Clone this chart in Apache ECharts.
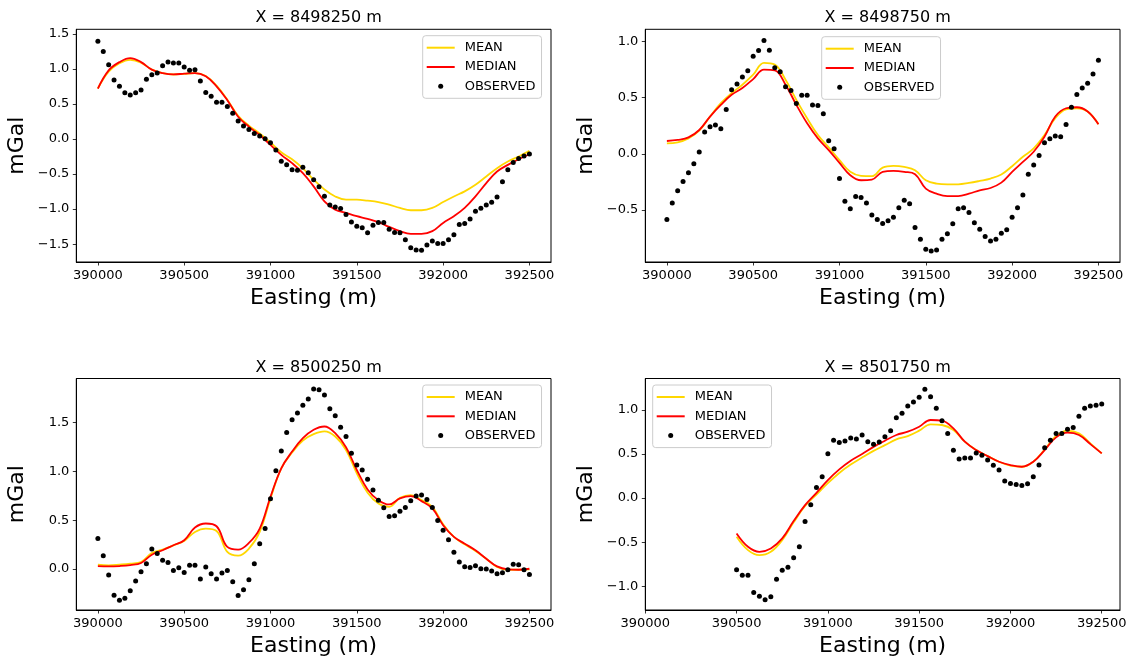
<!DOCTYPE html>
<html>
<head>
<meta charset="utf-8">
<script src="https://cdn.jsdelivr.net/npm/echarts@6/dist/echarts.min.js"></script>
<style>
html,body{margin:0;padding:0;background:#fff;}
#chart{width:1132px;height:664px;}
</style>
</head>
<body>
<div id="chart"></div>
<script>
// ---------- DATA ----------
const PANEL_TITLES = ['X = 8498250 m', 'X = 8498750 m', 'X = 8500250 m', 'X = 8501750 m'];
const X_TICKS = [390000, 390500, 391000, 391500, 392000, 392500];
const Y_TICKS_1 = [-1.5, -1.0, -0.5, 0.0, 0.5, 1.0, 1.5];
const Y_TICKS_2 = [-0.5, 0.0, 0.5, 1.0];
const Y_TICKS_3 = [0.0, 0.5, 1.0, 1.5];
const Y_TICKS_4 = [-1.0, -0.5, 0.0, 0.5, 1.0];
const LEGEND_NAMES = ['MEAN', 'MEDIAN', 'OBSERVED'];

// station spacing (m) of observed points and of modelled curves
const OBS_STEP = 31.25;
const FIT_STEP = 62.5;
const OBS_START = [390000, 390000, 390000, 390500];
const FIT_START = [390000, 390000, 390000, 390500];

const obs1 = [1.395,1.249,1.06,0.842,0.752,0.658,0.629,0.658,0.70,0.851,
  0.918,0.941,1.045,1.097,1.083,1.083,1.026,0.979,0.989,0.828,
  0.662,0.61,0.525,0.525,0.464,0.369,0.255,0.184,0.137,0.08,
  0.043,0.005,-0.052,-0.156,-0.317,-0.369,-0.44,-0.445,-0.402,-0.483,
  -0.582,-0.681,-0.818,-0.941,-0.97,-0.993,-1.079,-1.183,-1.244,-1.268,
  -1.339,-1.23,-1.192,-1.192,-1.287,-1.334,-1.339,-1.438,-1.552,-1.585,
  -1.589,-1.514,-1.457,-1.49,-1.49,-1.438,-1.367,-1.22,-1.206,-1.14,
  -1.031,-0.989,-0.941,-0.903,-0.828,-0.61,-0.44,-0.336,-0.279,-0.241,-0.213];
const median1 = [0.719,0.979,1.097,1.154,1.097,0.989,0.941,0.922,0.932,0.941,
  0.894,0.752,0.553,0.317,0.175,0.057,-0.085,-0.227,-0.345,-0.487,
  -0.676,-0.889,-1.008,-1.055,-1.102,-1.14,-1.187,-1.254,-1.315,-1.353,
  -1.353,-1.315,-1.197,-1.102,-0.984,-0.818,-0.629,-0.464,-0.369,-0.289,-0.218];
const mean1 = [0.72,0.96,1.08,1.13,1.09,0.99,0.94,0.92,0.93,0.94,
  0.90,0.76,0.56,0.33,0.19,0.08,-0.05,-0.19,-0.29,-0.42,
  -0.58,-0.72,-0.82,-0.866,-0.866,-0.88,-0.90,-0.937,-0.984,-1.017,
  -1.017,-0.984,-0.90,-0.82,-0.747,-0.653,-0.535,-0.416,-0.322,-0.25,-0.17];

const obs2 = [-0.586,-0.439,-0.329,-0.248,-0.170,-0.09,0.015,0.194,0.242,0.257,
  0.224,0.395,0.571,0.622,0.684,0.741,0.87,0.92,1.01,0.924,
  0.768,0.732,0.598,0.565,0.448,0.523,0.523,0.436,0.43,0.356,
  0.117,0.045,-0.221,-0.424,-0.49,-0.38,-0.389,-0.439,-0.547,-0.586,
  -0.622,-0.598,-0.565,-0.481,-0.415,-0.445,-0.657,-0.762,-0.852,-0.867,
  -0.858,-0.762,-0.714,-0.625,-0.49,-0.481,-0.523,-0.616,-0.672,-0.738,
  -0.777,-0.762,-0.708,-0.678,-0.565,-0.481,-0.368,-0.182,-0.099,-0.015,
  0.099,0.134,0.158,0.152,0.26,0.415,0.529,0.586,0.628,0.711,0.834];
const median2 = [0.114,0.123,0.146,0.212,0.332,0.436,0.526,0.586,0.666,0.75,
  0.744,0.616,0.436,0.272,0.137,0.033,-0.081,-0.191,-0.236,-0.23,
  -0.161,-0.152,-0.161,-0.182,-0.311,-0.356,-0.377,-0.377,-0.356,-0.326,
  -0.305,-0.257,-0.161,-0.072,0.018,0.152,0.332,0.406,0.415,0.377,0.263];
const mean2 = [0.093,0.102,0.137,0.206,0.332,0.451,0.541,0.616,0.705,0.81,
  0.795,0.66,0.481,0.317,0.167,0.057,-0.057,-0.161,-0.197,-0.2,
  -0.123,-0.108,-0.117,-0.146,-0.236,-0.266,-0.272,-0.272,-0.26,-0.242,
  -0.221,-0.185,-0.111,-0.027,0.048,0.167,0.317,0.397,0.406,0.377,0.263];

const obs3 = [0.312,0.137,-0.062,-0.267,-0.318,-0.298,-0.223,-0.123,-0.027,0.055,
  0.205,0.158,0.089,0.068,-0.014,0.014,-0.034,0.038,0.038,-0.103,
  0.021,-0.048,-0.103,-0.041,-0.014,-0.130,-0.271,-0.212,-0.11,0.055,
  0.26,0.414,0.719,1.007,1.209,1.397,1.527,1.596,1.675,1.74,
  1.842,1.836,1.781,1.64,1.568,1.452,1.356,1.185,1.065,1.014,
  0.918,0.808,0.705,0.627,0.538,0.545,0.592,0.630,0.699,0.747,
  0.757,0.712,0.630,0.497,0.397,0.301,0.171,0.072,0.024,0.017,
  0.034,0.003,0.0,-0.021,-0.048,-0.038,-0.007,0.048,0.045,-0.007,-0.055];
const median3 = [0.031,0.027,0.031,0.041,0.062,0.147,0.192,0.243,0.295,0.425,
  0.466,0.438,0.226,0.199,0.267,0.414,0.74,1.031,1.202,1.339,
  1.425,1.459,1.39,1.247,1.014,0.815,0.705,0.661,0.723,0.747,
  0.695,0.62,0.449,0.329,0.26,0.192,0.106,0.027,-0.003,-0.007,0.003];
const mean3 = [0.045,0.038,0.045,0.055,0.072,0.164,0.199,0.243,0.288,0.38,
  0.414,0.39,0.175,0.137,0.209,0.38,0.723,1.031,1.192,1.315,
  1.38,1.408,1.356,1.219,0.979,0.781,0.671,0.637,0.729,0.757,
  0.705,0.637,0.459,0.329,0.253,0.185,0.106,0.021,-0.007,-0.007,-0.003];

const obs4 = [-0.813,-0.873,-0.873,-1.07,-1.112,-1.153,-1.119,-0.919,-0.817,-0.783,
  -0.677,-0.552,-0.265,-0.076,0.121,0.242,0.503,0.654,0.631,0.647,
  0.681,0.669,0.715,0.639,0.609,0.635,0.696,0.764,0.911,0.96,
  1.043,1.089,1.142,1.233,1.149,1.017,0.877,0.733,0.541,0.442,
  0.454,0.454,0.510,0.484,0.431,0.371,0.318,0.193,0.166,0.155,
  0.144,0.163,0.242,0.374,0.571,0.654,0.733,0.733,0.779,0.801,
  0.926,1.017,1.043,1.051,1.066];
const median4 = [-0.401,-0.552,-0.609,-0.571,-0.457,-0.26,-0.08,0.06,0.204,0.325,
  0.423,0.499,0.58,0.65,0.715,0.752,0.809,0.885,0.877,0.79,
  0.639,0.544,0.476,0.412,0.374,0.355,0.412,0.544,0.688,0.741,
  0.715,0.612,0.507];
const mean4 = [-0.439,-0.59,-0.647,-0.609,-0.476,-0.275,-0.09,0.04,0.17,0.285,
  0.38,0.46,0.535,0.6,0.665,0.703,0.764,0.836,0.828,0.771,
  0.639,0.544,0.476,0.412,0.367,0.355,0.412,0.552,0.703,0.764,
  0.733,0.62,0.507];

// ---------- LAYOUT / STYLE ----------
const FONT = 'DejaVu Sans';
const GRIDS = [
  {left: 76.3, top: 29.3, width: 474.7, height: 232.7},
  {left: 645.3, top: 29.3, width: 474.7, height: 232.7},
  {left: 76.3, top: 378.5, width: 474.7, height: 231.5},
  {left: 645.3, top: 378.5, width: 474.7, height: 231.5}
];
const X_RANGES = [[389875, 392625], [389875, 392625], [389875, 392625], [390000, 392600]];
const Y_RANGES = [[-1.755, 1.565], [-0.965, 1.11], [-0.419, 1.95], [-1.268, 1.355]];
const Y_TICKS = [Y_TICKS_1, Y_TICKS_2, Y_TICKS_3, Y_TICKS_4];
const LEGEND_POS = [[422.7, 35.7], [821.7, 36.7], [422.7, 385], [652.7, 385]];
const COLORS = {MEAN: '#FFD700', MEDIAN: '#FF0000', OBSERVED: '#000000'};

const OBS = [obs1, obs2, obs3, obs4];
const MEDIANS = [median1, median2, median3, median4];
const MEANS = [mean1, mean2, mean3, mean4];

function stations(start, step, n) {
  const out = [];
  for (let i = 0; i < n; i++) out.push(start + i * step);
  return out;
}
function pairs(xs, ys) { return ys.map((y, i) => [xs[i], y]); }
function fmtY(v) {
  const s = Math.abs(v).toFixed(1);
  return v < 0 ? '\u2212' + s : s;
}

const option = {
  animation: false,
  backgroundColor: '#ffffff',
  title: [], grid: [], xAxis: [], yAxis: [], legend: [], series: []
};

for (let p = 0; p < 4; p++) {
  const g = GRIDS[p];
  option.grid.push({
    left: g.left, top: g.top, width: g.width, height: g.height,
    show: true, borderColor: '#000', borderWidth: 1, backgroundColor: 'transparent'
  });
  option.title.push({
    text: PANEL_TITLES[p],
    left: g.left + g.width / 2,
    top: g.top - 24,
    textAlign: 'center',
    textStyle: {fontFamily: FONT, fontSize: 16, fontWeight: 'normal', color: '#000'}
  });
  option.xAxis.push({
    type: 'value', gridIndex: p,
    min: X_RANGES[p][0], max: X_RANGES[p][1],
    name: 'Easting (m)', nameLocation: 'middle', nameGap: 25,
    nameTextStyle: {fontFamily: FONT, fontSize: 22, color: '#000'},
    axisLine: {show: true, onZero: false, lineStyle: {color: '#000', width: 1}},
    axisTick: {show: true, length: 3.5, lineStyle: {color: '#000', width: 0.8}, customValues: X_TICKS},
    axisLabel: {show: true, margin: 7, fontFamily: FONT, fontSize: 13, color: '#000',
      customValues: X_TICKS, formatter: v => String(Math.round(v))},
    splitLine: {show: false}
  });
  option.yAxis.push({
    type: 'value', gridIndex: p,
    min: Y_RANGES[p][0], max: Y_RANGES[p][1],
    name: 'mGal', nameLocation: 'middle', nameRotate: 90, nameGap: 48,
    nameTextStyle: {fontFamily: FONT, fontSize: 22, color: '#000'},
    axisLine: {show: true, onZero: false, lineStyle: {color: '#000', width: 1}},
    axisTick: {show: true, length: 3.5, lineStyle: {color: '#000', width: 0.8}, customValues: Y_TICKS[p]},
    axisLabel: {show: true, margin: 7, fontFamily: FONT, fontSize: 13, color: '#000',
      customValues: Y_TICKS[p], formatter: fmtY},
    splitLine: {show: false}
  });
  option.legend.push({
    orient: 'vertical',
    left: LEGEND_POS[p][0], top: LEGEND_POS[p][1],
    padding: [4, 6, 4, 4],
    itemGap: 3.3,
    itemWidth: 28, itemHeight: 5,
    backgroundColor: 'rgba(255,255,255,0.8)',
    borderColor: '#cccccc', borderWidth: 1, borderRadius: 3,
    selectedMode: false,
    textStyle: {fontFamily: FONT, fontSize: 13, color: '#000', lineHeight: 16, padding: [0, 0, 0, 5]},
    data: [
      {name: LEGEND_NAMES[0], icon: 'path://M0,0 L28,0 L28,2 L0,2 Z'},
      {name: LEGEND_NAMES[1], icon: 'path://M0,0 L28,0 L28,2 L0,2 Z'},
      {name: LEGEND_NAMES[2], icon: 'circle'}
    ]
  });

  const fitX = stations(FIT_START[p], FIT_STEP, MEANS[p].length);
  const obsX = stations(OBS_START[p], OBS_STEP, OBS[p].length);

  option.series.push({
    name: 'MEAN', type: 'line', xAxisIndex: p, yAxisIndex: p,
    data: pairs(fitX, MEANS[p]), smooth: 0.4, symbol: 'none',
    lineStyle: {color: COLORS.MEAN, width: 1.8}, itemStyle: {color: COLORS.MEAN}, z: 2
  });
  option.series.push({
    name: 'MEDIAN', type: 'line', xAxisIndex: p, yAxisIndex: p,
    data: pairs(fitX, MEDIANS[p]), smooth: 0.4, symbol: 'none',
    lineStyle: {color: COLORS.MEDIAN, width: 1.8}, itemStyle: {color: COLORS.MEDIAN}, z: 3
  });
  option.series.push({
    name: 'OBSERVED', type: 'scatter', xAxisIndex: p, yAxisIndex: p,
    data: pairs(obsX, OBS[p]), symbol: 'circle', symbolSize: 5,
    itemStyle: {color: COLORS.OBSERVED, opacity: 1}, z: 4
  });
}

const chart = echarts.init(document.getElementById('chart'), null, {renderer: 'canvas'});
chart.setOption(option);
</script>
</body>
</html>
